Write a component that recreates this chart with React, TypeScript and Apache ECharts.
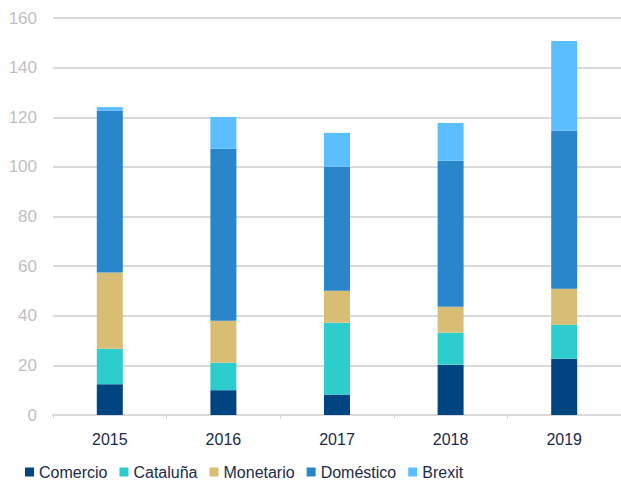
import React, { useEffect, useRef } from "react";
import * as echarts from "echarts";

const categories = ["2015", "2016", "2017", "2018", "2019"];
const comercio = [12.4, 10.0, 8.2, 20.3, 22.7];
const cataluna = [14.3, 11.1, 29.0, 12.9, 13.7];
const monetario = [30.7, 16.9, 12.9, 10.4, 14.5];
const domestico = [65.3, 69.3, 50.0, 58.9, 63.7];
const brexit = [1.4, 12.8, 13.6, 15.2, 36.1];
const seriesNames = ["Comercio", "Cataluña", "Monetario", "Doméstico", "Brexit"];
const seriesColors = ["#004481", "#2DCCCD", "#D8BE75", "#2A86CA", "#5BBEFF"];

export default function App() {
  const ref = useRef<HTMLDivElement>(null);
  useEffect(() => {
    document.body.style.margin = "0";
    const chart = echarts.init(ref.current!, null, { renderer: "svg" });
    const values = [comercio, cataluna, monetario, domestico, brexit];
    chart.setOption({
      animation: false,
      textStyle: { fontFamily: "Liberation Sans, Arial, sans-serif" },
      grid: { left: 53, top: 18, width: 570, height: 397, containLabel: false },
      legend: {
        left: 25,
        top: 464,
        padding: 0,
        itemWidth: 9,
        itemHeight: 9,
        itemGap: 12,
        icon: "rect",
        textStyle: { color: "#1B2A4A", fontSize: 16 },
        data: seriesNames,
      },
      xAxis: {
        type: "category",
        data: categories,
        axisLine: { lineStyle: { color: "#d9d9d9", width: 2 } },
        axisTick: { show: true, length: 4, lineStyle: { color: "#d9d9d9", width: 1 } },
        axisLabel: { color: "#1B2A4A", fontSize: 16, margin: 16 },
      },
      yAxis: {
        type: "value",
        min: 0,
        max: 160,
        interval: 20,
        axisLine: { show: false },
        axisTick: { show: false },
        splitLine: { lineStyle: { color: "#d9d9d9", width: 2 } },
        axisLabel: { color: "#bfbfbf", fontSize: 17, margin: 16 },
      },
      series: seriesNames.map((name, i) => ({
        name,
        type: "bar",
        stack: "total",
        barWidth: 26,
        data: values[i],
        itemStyle: { color: seriesColors[i] },
      })),
    });
    return () => chart.dispose();
  }, []);
  return <div ref={ref} style={{ width: 621, height: 482 }} />;
}
